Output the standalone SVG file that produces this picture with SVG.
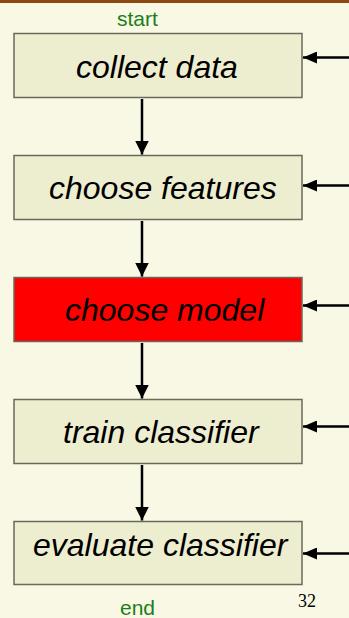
<svg xmlns="http://www.w3.org/2000/svg" width="349" height="618" viewBox="0 0 349 618">
<style>
.box{fill:#EDEDCF;stroke:#6A6A5A;stroke-width:1.5}
.red{fill:#FF0000}
.lbl{font-family:"Liberation Sans",Arial,sans-serif;font-style:italic;font-size:32px;fill:#000}
.grn{font-family:"Liberation Sans",Arial,sans-serif;font-size:21px;fill:#1A7F1A}
.num{font-family:"Liberation Serif","Times New Roman",serif;font-size:18px;fill:#000}
.ln{stroke:#000;stroke-width:2.5;fill:none}
</style>
<defs>
<marker id="ah" viewBox="0 0 14 14" refX="14" refY="7" markerWidth="14" markerHeight="14" markerUnits="userSpaceOnUse" orient="auto">
<path d="M0,0 L14,7 L0,14 Z" fill="#000"/>
</marker>
<marker id="ahs" viewBox="0 0 14 12" refX="14" refY="6" markerWidth="14" markerHeight="12" markerUnits="userSpaceOnUse" orient="auto">
<path d="M0,0 L14,6 L0,12 Z" fill="#000"/>
</marker>
</defs>
<rect width="349" height="618" fill="#F8F8E5"/>
<rect width="349" height="3" fill="#8B4A12"/>
<text class="grn" x="117" y="26">start</text>
<text class="grn" x="120" y="615">end</text>
<text class="num" x="298" y="607">32</text>
<g id="collect-data">
<rect class="box" x="14" y="33.5" width="288" height="64"/>
<text class="lbl" x="76" y="78">collect data</text>
</g>
<g id="choose-features">
<rect class="box" x="14" y="155.5" width="288" height="64"/>
<text class="lbl" x="49" y="199">choose features</text>
</g>
<g id="choose-model">
<rect class="box red" x="14" y="277.5" width="288" height="64"/>
<text class="lbl" x="65" y="321">choose model</text>
</g>
<g id="train-classifier">
<rect class="box" x="14" y="399.5" width="288" height="64"/>
<text class="lbl" x="63" y="443">train classifier</text>
</g>
<g id="evaluate-classifier">
<rect class="box" x="14" y="521.5" width="288" height="63"/>
<text class="lbl" x="33" y="556">evaluate classifier</text>
</g>
<g id="connectors">
<path class="ln" d="M142,99 V154.5" marker-end="url(#ah)"/>
<path class="ln" d="M142,221 V276.5" marker-end="url(#ah)"/>
<path class="ln" d="M142,343 V398.5" marker-end="url(#ah)"/>
<path class="ln" d="M142,465 V520.5" marker-end="url(#ah)"/>
<path class="ln" d="M349,57.5 H303" marker-end="url(#ahs)"/>
<path class="ln" d="M349,185.5 H303" marker-end="url(#ahs)"/>
<path class="ln" d="M349,305.5 H303" marker-end="url(#ahs)"/>
<path class="ln" d="M349,426.5 H303" marker-end="url(#ahs)"/>
<path class="ln" d="M349,553.5 H303" marker-end="url(#ahs)"/>
</g>
</svg>
